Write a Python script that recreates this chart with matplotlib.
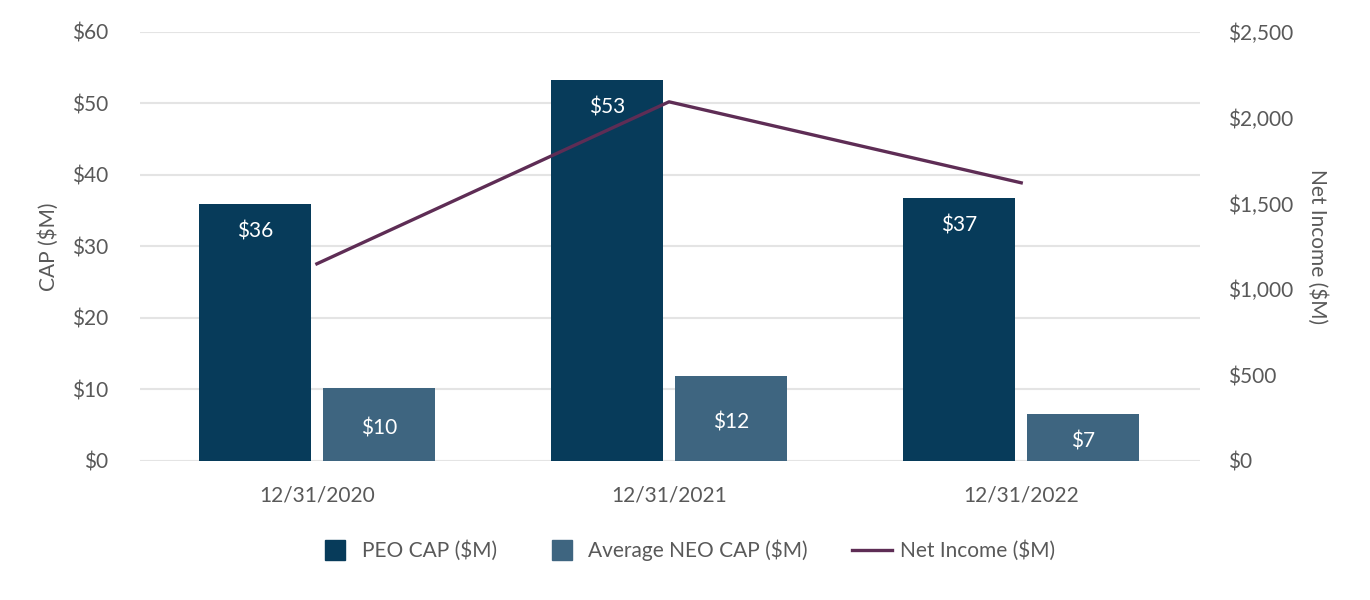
import matplotlib.pyplot as plt
import numpy as np
from matplotlib.patches import Rectangle, Patch
from matplotlib.legend_handler import HandlerPatch

plt.rcParams['font.family'] = ['Lato', 'DejaVu Sans']

# Data
dates = ['12/31/2020', '12/31/2021', '12/31/2022']
peo_cap = [35.9, 53.3, 36.8]
neo_cap = [10.2, 11.9, 6.6]
peo_labels = ['$36', '$53', '$37']
neo_labels = ['$10', '$12', '$7']
net_income = [1148, 2092, 1620]

peo_color = '#073b5a'
neo_color = '#3e6580'
line_color = '#5e2d55'
text_color = '#595959'
fs = 15

fig = plt.figure(figsize=(13.7, 6), dpi=100)
ax = fig.add_axes([0.102, 0.232, 0.774, 0.715])
ax2 = ax.twinx()

x = np.arange(len(dates))
w = 0.318
gap = 0.034
b1 = ax.bar(x - (w + gap) / 2, peo_cap, w, color=peo_color, zorder=3)
b2 = ax.bar(x + (w + gap) / 2, neo_cap, w, color=neo_color, zorder=3)
ax.bar_label(b1, labels=peo_labels, label_type='edge', padding=-27, color='white', fontsize=fs)
neo_txt = ax.bar_label(b2, labels=neo_labels, label_type='center', color='white', fontsize=fs)
for t in neo_txt:
    t.xyann = (0, -3)

ln, = ax2.plot(x, net_income, color=line_color, lw=2.4, label='Net Income ($M)')

ax.set_xlim(-0.503, 2.508)
ax.set_ylim(0, 60)
ax.set_yticks(range(0, 61, 10))
ax.set_yticklabels([f'${v}' for v in range(0, 61, 10)])
ax2.set_ylim(0, 2500)
ax2.set_yticks(range(0, 2501, 500))
ax2.set_yticklabels([f'${v:,}' for v in range(0, 2501, 500)])

ax.set_xticks(x)
ax.set_xticklabels(dates)
ax.grid(axis='y', color='#e4e4e4', lw=1.5, zorder=0)
ax.set_axisbelow(True)

for a in (ax, ax2):
    for s in a.spines.values():
        s.set_visible(False)
    a.tick_params(length=0, labelsize=fs, colors=text_color)
ax.tick_params(axis='y', pad=23)
ax.tick_params(axis='x', pad=18)
ax2.tick_params(axis='y', pad=20)

ax.set_ylabel('CAP ($M)', fontsize=fs, color=text_color, labelpad=9)
ax2.set_ylabel('Net Income ($M)', fontsize=fs, color=text_color, rotation=270, labelpad=25)


def square_patch(legend, orig_handle, xdescent, ydescent, width, height, fontsize):
    s = 0.5 * width
    return Rectangle((-xdescent + 0.275 * width, -ydescent + height / 2 - s / 2), s, s)


h1 = Patch(color=peo_color, label='PEO CAP ($M)')
h2 = Patch(color=neo_color, label='Average NEO CAP ($M)')
sq = HandlerPatch(patch_func=square_patch)
fig.legend(handles=[h1, h2, ln], loc='center', bbox_to_anchor=(0.4995, 0.083), ncol=3,
           frameon=False, fontsize=fs, handlelength=1.92, handletextpad=0.38,
           columnspacing=2.1, labelcolor=text_color,
           handler_map={Patch: sq})

fig.savefig('out.png', dpi=100)
plt.close(fig)
